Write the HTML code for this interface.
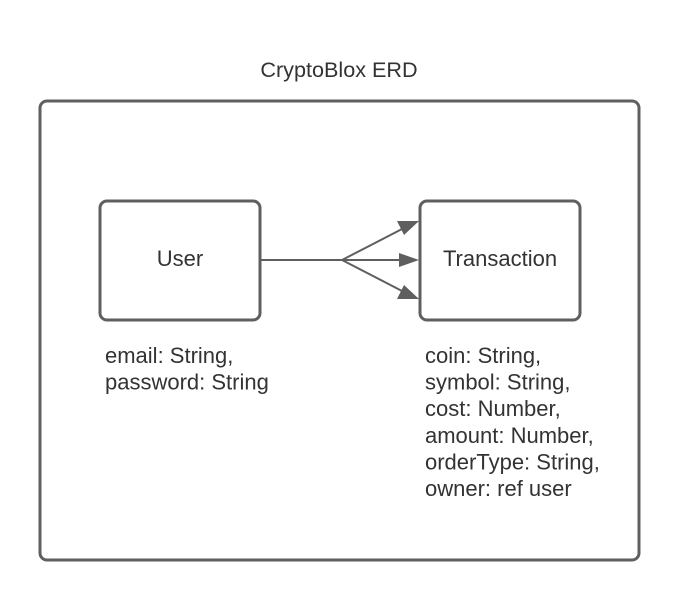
<!DOCTYPE html>
<html><head><meta charset="utf-8"><style>
html,body{margin:0;padding:0;background:#fff;}
svg{display:block;}
text{font-family:"Liberation Sans",Arial,sans-serif;font-size:22px;fill:#333;}
</style></head><body>
<svg width="700" height="600" viewBox="0 0 700 600" xmlns="http://www.w3.org/2000/svg">
<text x="339" y="77" text-anchor="middle" style="font-size:21.6px">CryptoBlox ERD</text>
<rect x="40" y="101" width="599" height="459" rx="7" fill="none" stroke="#5f5f5f" stroke-width="3"/>
<rect x="100" y="201" width="160" height="119" rx="7" fill="none" stroke="#5f5f5f" stroke-width="3"/>
<rect x="420" y="201" width="160" height="119" rx="7" fill="none" stroke="#5f5f5f" stroke-width="3"/>
<text x="180" y="266" text-anchor="middle">User</text>
<text x="500" y="266" text-anchor="middle">Transaction</text>
<g stroke="#5f5f5f" stroke-width="2" fill="none">
<path d="M261 260 H342"/>
<path d="M342 260 L402 229"/>
<path d="M342 260 H400"/>
<path d="M342 260 L402 291"/>
</g>
<g fill="#5f5f5f">
<polygon points="419,221 397,221 404,235"/>
<polygon points="419,260 399,253 399,267"/>
<polygon points="419,299 404,285 397,299"/>
</g>
<text x="105" y="363">email: String,</text>
<text x="105" y="389.6">password: String</text>
<text x="425" y="363">coin: String,</text>
<text x="425" y="389.6">symbol: String,</text>
<text x="425" y="416.2">cost: Number,</text>
<text x="425" y="442.8">amount: Number,</text>
<text x="425" y="469.4">orderType: String,</text>
<text x="425" y="496">owner: ref user</text>
</svg>
</body></html>
